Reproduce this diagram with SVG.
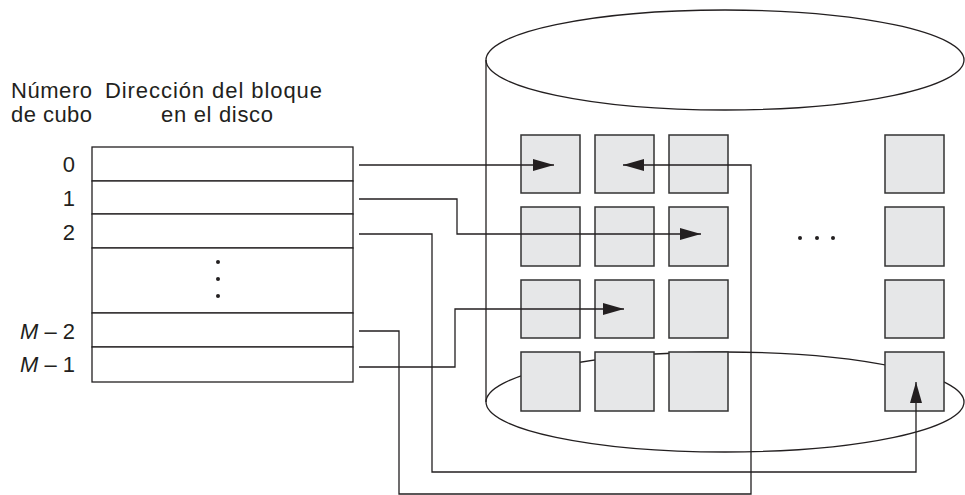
<svg xmlns="http://www.w3.org/2000/svg" width="965" height="495" viewBox="0 0 965 495">
<style>
  text { font-family: "Liberation Sans", Arial, sans-serif; fill: #231f20; }
  .hdr { font-size: 22px; }
  .num { font-size: 22px; text-anchor: end; }
  .cell { fill: #ffffff; stroke: #231f20; stroke-width: 1.3; }
  .blk { fill: #e6e7e8; stroke: #333333; stroke-width: 1.5; }
  .cyl { fill: none; stroke: #231f20; stroke-width: 1.3; }
  .conn { fill: none; stroke: #231f20; stroke-width: 1.3; }
  .dot { fill: #231f20; }
</style>
<defs>
  <marker id="arr" viewBox="0 0 21 12" refX="21" refY="6" markerWidth="21" markerHeight="12" markerUnits="userSpaceOnUse" orient="auto">
    <path d="M0,0 L21,6 L0,12 Z" fill="#231f20"/>
  </marker>
</defs>
<rect width="965" height="495" fill="#ffffff"/>

<g id="headers">
  <text class="hdr" x="11" y="98" textLength="81" lengthAdjust="spacing">Número</text>
  <text class="hdr" x="11" y="122" textLength="81" lengthAdjust="spacing">de cubo</text>
  <text class="hdr" x="105" y="98" textLength="217" lengthAdjust="spacing">Dirección del bloque</text>
  <text class="hdr" x="161" y="122" textLength="112" lengthAdjust="spacing">en el disco</text>
</g>

<g id="table">
  <rect class="cell" x="92" y="147" width="261" height="34"/>
  <rect class="cell" x="92" y="181" width="261" height="33"/>
  <rect class="cell" x="92" y="214" width="261" height="34"/>
  <rect class="cell" x="92" y="248" width="261" height="65"/>
  <rect class="cell" x="92" y="313" width="261" height="34"/>
  <rect class="cell" x="92" y="347" width="261" height="35"/>
  <circle class="dot" cx="218" cy="262" r="2"/>
  <circle class="dot" cx="218" cy="279" r="2"/>
  <circle class="dot" cx="218" cy="296" r="2"/>
</g>

<g id="labels">
  <text class="num" x="75" y="172">0</text>
  <text class="num" x="75" y="206">1</text>
  <text class="num" x="75" y="240">2</text>
  <text class="num" x="75" y="339"><tspan font-style="italic">M</tspan> – 2</text>
  <text class="num" x="75" y="372"><tspan font-style="italic">M</tspan> – 1</text>
</g>

<g id="disk">
  <ellipse class="cyl" cx="725" cy="60" rx="239" ry="50"/>
  <line class="cyl" x1="486" y1="60" x2="486" y2="402"/>
  <ellipse class="cyl" cx="725" cy="402" rx="239" ry="50"/>
</g>

<g id="blocks">
  <rect class="blk" x="521" y="135" width="59" height="58"/>
  <rect class="blk" x="595" y="135" width="59" height="58"/>
  <rect class="blk" x="669" y="135" width="59" height="58"/>
  <rect class="blk" x="885" y="135" width="59" height="58"/>
  <rect class="blk" x="521" y="207" width="59" height="59"/>
  <rect class="blk" x="595" y="207" width="59" height="59"/>
  <rect class="blk" x="669" y="207" width="59" height="59"/>
  <rect class="blk" x="885" y="207" width="59" height="59"/>
  <rect class="blk" x="521" y="280" width="59" height="58"/>
  <rect class="blk" x="595" y="280" width="59" height="58"/>
  <rect class="blk" x="669" y="280" width="59" height="58"/>
  <rect class="blk" x="885" y="280" width="59" height="58"/>
  <rect class="blk" x="521" y="352" width="59" height="59"/>
  <rect class="blk" x="595" y="352" width="59" height="59"/>
  <rect class="blk" x="669" y="352" width="59" height="59"/>
  <rect class="blk" x="885" y="352" width="59" height="59"/>
  <circle class="dot" cx="800" cy="238" r="2"/>
  <circle class="dot" cx="817" cy="238" r="2"/>
  <circle class="dot" cx="833" cy="238" r="2"/>
</g>

<g id="connectors">
  <path class="conn" d="M359,165 H554" marker-end="url(#arr)"/>
  <path class="conn" d="M359,199 H457 V234 H701" marker-end="url(#arr)"/>
  <path class="conn" d="M359,234 H432 V472 H916 V382" marker-end="url(#arr)"/>
  <path class="conn" d="M359,331 H399 V494 H751 V165 H623" marker-end="url(#arr)"/>
  <path class="conn" d="M359,367 H455 V309 H624" marker-end="url(#arr)"/>
</g>
</svg>
